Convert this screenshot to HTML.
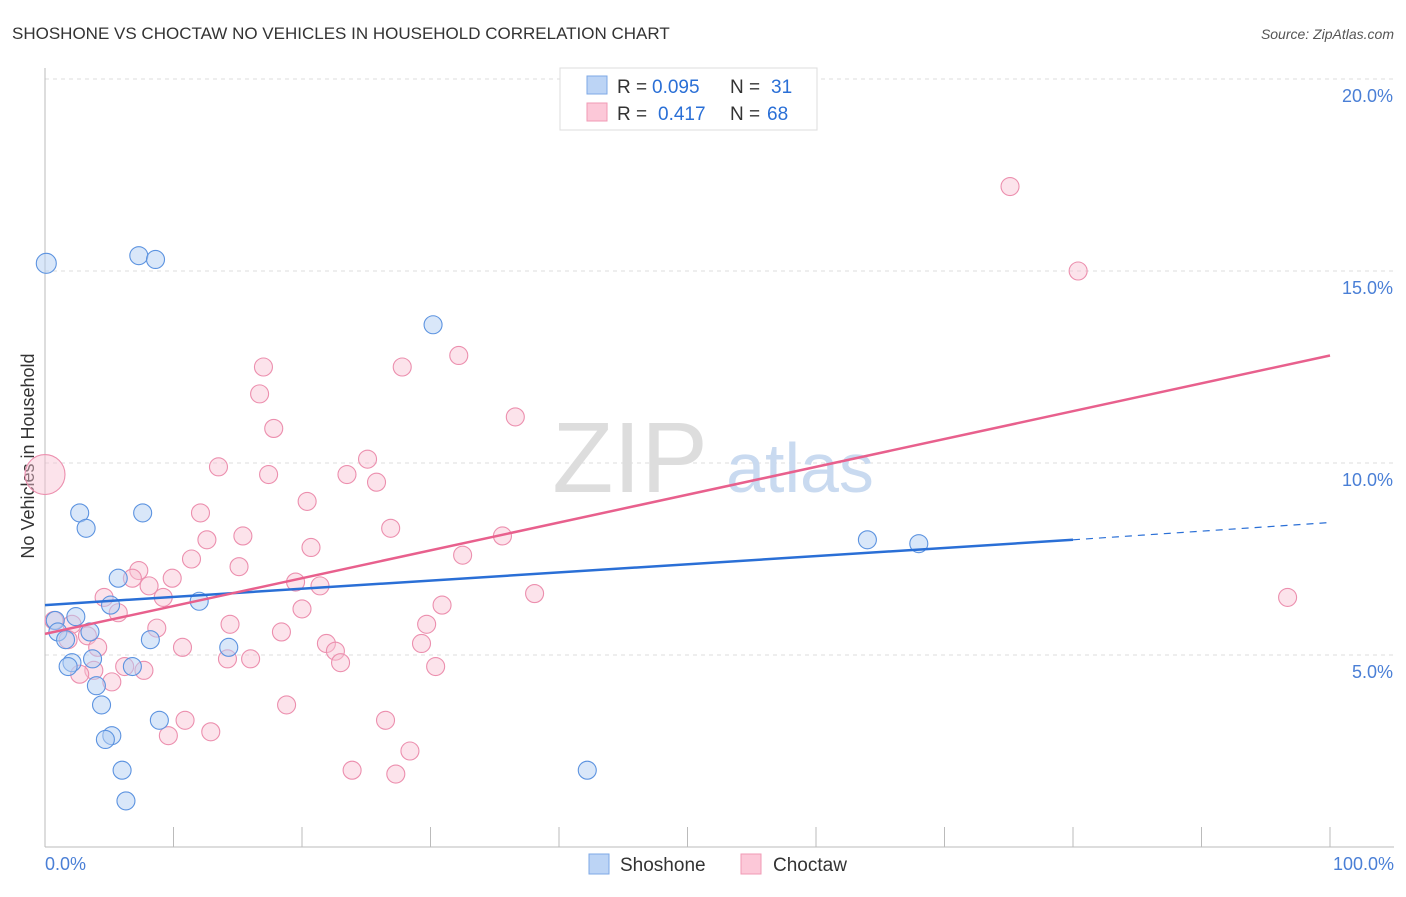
<!DOCTYPE html>
<html><head><meta charset="utf-8"><style>
body{margin:0;background:#fff;font-family:"Liberation Sans",sans-serif}
svg text{font-family:"Liberation Sans",sans-serif}
</style></head><body>
<svg width="1406" height="892">
<text x="12" y="39" font-size="17" fill="#333">SHOSHONE VS CHOCTAW NO VEHICLES IN HOUSEHOLD CORRELATION CHART</text>
<text x="1394" y="39" font-size="14" fill="#555" font-style="italic" text-anchor="end">Source: ZipAtlas.com</text>
<g id="grid"></g>
<text x="630" y="492" font-size="100" fill="#ddd" font-family="Liberation Serif" text-anchor="middle">ZIP</text>
<text x="800" y="492" font-size="70" fill="#c9daf0" text-anchor="middle">atlas</text>
<line x1="45" y1="68" x2="45" y2="847" stroke="#bbb"/>
<line x1="45" y1="847" x2="1394" y2="847" stroke="#bbb"/>
<g id="xticks"></g>
<text x="45" y="870" font-size="18" fill="#4a7fd6">0.0%</text>
<text x="1394" y="870" font-size="18" fill="#4a7fd6" text-anchor="end">100.0%</text>
<text x="34" y="456" font-size="18" fill="#333" text-anchor="middle" transform="rotate(-90 34 456)">No Vehicles in Household</text>
<g id="pts"></g>
<g id="lines"></g>
<g>
<rect x="560" y="68" width="257" height="62" fill="#fff" stroke="#ddd"/>
<rect x="587" y="76" width="20" height="18" fill="#bcd4f5" stroke="#7ea8e6"/>
<rect x="587" y="103" width="20" height="18" fill="#fcc8d8" stroke="#f09ab5"/>
<text x="617" y="93" font-size="19" fill="#333">R =</text>
<text x="652" y="93" font-size="19" fill="#2a6fd6">0.095</text>
<text x="730" y="93" font-size="19" fill="#333">N =</text>
<text x="771" y="93" font-size="19" fill="#2a6fd6">31</text>
<text x="617" y="120" font-size="19" fill="#333">R =</text>
<text x="658" y="120" font-size="19" fill="#2a6fd6">0.417</text>
<text x="730" y="120" font-size="19" fill="#333">N =</text>
<text x="767" y="120" font-size="19" fill="#2a6fd6">68</text>
</g>
<g>
<rect x="589" y="854" width="20" height="20" fill="#bcd4f5" stroke="#7ea8e6"/>
<text x="620" y="871" font-size="19" fill="#333">Shoshone</text>
<rect x="741" y="854" width="20" height="20" fill="#fcc8d8" stroke="#f09ab5"/>
<text x="773" y="871" font-size="19" fill="#333">Choctaw</text>
</g>
</svg>
<script>
const yTicks=[5,10,15,20];
const yTickLabels=["5.0%","10.0%","15.0%","20.0%"];
const xTicks=[0,10,20,30,40,50,60,70,80,90,100];
const shoshoneX=[0.1,7.3,8.6,30.2,2.7,3.2,7.6,5.7,5.1,12.0,2.4,0.8,1.0,1.6,3.5,3.7,2.1,1.8,6.8,14.3,4.0,4.4,5.2,4.7,8.9,6.0,6.3,42.2,64.0,68.0,8.2];
const shoshoneY=[15.2,15.4,15.3,13.6,8.7,8.3,8.7,7.0,6.3,6.4,6.0,5.9,5.6,5.4,5.6,4.9,4.8,4.7,4.7,5.2,4.2,3.7,2.9,2.8,3.3,2.0,1.2,2.0,8.0,7.9,5.4];
const choctawX=[75.1,80.4,32.2,27.8,17.0,16.7,17.8,36.6,13.5,25.1,17.4,23.5,25.8,20.4,12.1,26.9,35.6,15.4,12.6,20.7,11.4,32.5,15.1,7.3,9.9,6.8,8.1,19.5,21.4,38.1,96.7,9.2,4.6,30.9,20.0,5.7,0.7,2.1,14.4,29.7,8.7,3.3,18.4,21.9,22.6,29.3,10.7,4.1,1.8,14.2,16.0,23.0,30.4,6.2,7.7,3.8,2.7,5.2,18.8,10.9,26.5,12.9,9.6,28.4,23.9,27.3,0];
const choctawY=[17.2,15.0,12.8,12.5,12.5,11.8,10.9,11.2,9.9,10.1,9.7,9.7,9.5,9.0,8.7,8.3,8.1,8.1,8.0,7.8,7.5,7.6,7.3,7.2,7.0,7.0,6.8,6.9,6.8,6.6,6.5,6.5,6.5,6.3,6.2,6.1,5.9,5.8,5.8,5.8,5.7,5.5,5.6,5.3,5.1,5.3,5.2,5.2,5.4,4.9,4.9,4.8,4.7,4.7,4.6,4.6,4.5,4.3,3.7,3.3,3.3,3.0,2.9,2.5,2.0,1.9,9.7];
const X=v=>45+v*12.85, Y=v=>847-v*38.4;
const NS="http://www.w3.org/2000/svg";
function mk(t,a,p){const e=document.createElementNS(NS,t);for(const k in a)e.setAttribute(k,a[k]);document.getElementById(p).appendChild(e);return e;}
yTicks.forEach((t,i)=>{
 const l=mk('line',{x1:45,x2:1394,y1:Y(t),y2:Y(t),stroke:'#ddd','stroke-dasharray':'4,4'},'grid');
 
 
 const tx=mk('text',{x:1393,y:Y(t)+23,'font-size':18,fill:'#4a7fd6','text-anchor':'end'},'grid');
 tx.textContent=yTickLabels[i];
 
 
});
xTicks.forEach(t=>{
 const l=mk('line',{x1:X(t),x2:X(t),y1:827,y2:847,stroke:'#bbb'},'xticks');
 
 
});
choctawX.forEach((v,i)=>{
 const r=(i==choctawX.length-1)?20:9;
 const c=mk('circle',{cx:X(v),cy:Y(choctawY[i]),r:r,fill:'#f9c0d2','fill-opacity':0.45,stroke:'#ec8fae','stroke-width':1.1},'pts');
 
 
});
shoshoneX.forEach((v,i)=>{
 const c=mk('circle',{cx:X(v),cy:Y(shoshoneY[i]),r:i==0?10:9,fill:'#b4cff3','fill-opacity':0.5,stroke:'#5c93e0','stroke-width':1.1},'pts');
 
 
});
let l=mk('line',{x1:X(0),y1:Y(6.3),x2:X(80),y2:Y(8.0),stroke:'#2a6fd6','stroke-width':2.5},'lines');


l=mk('line',{x1:X(80),y1:Y(8.0),x2:X(100),y2:Y(8.45),stroke:'#2a6fd6','stroke-width':1.2,'stroke-dasharray':'7,6'},'lines');


l=mk('line',{x1:X(0),y1:Y(5.55),x2:X(100),y2:Y(12.8),stroke:'#e8608d','stroke-width':2.5},'lines');


</script>
</body></html>
